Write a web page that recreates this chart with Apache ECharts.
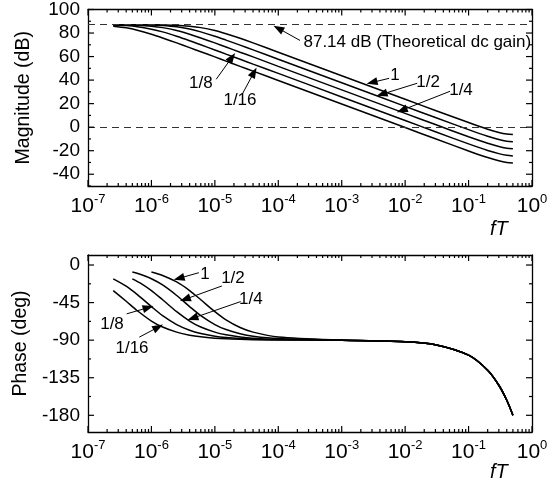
<!DOCTYPE html>
<html lang="en">
<head>
<meta charset="UTF-8">
<title>bode</title>
<script src="https://cdn.jsdelivr.net/npm/echarts@6.0.0/dist/echarts.min.js"></script>
<style>
    body { margin: 0; background: #fff; }
    #chart { width: 557px; height: 481px; }
</style>
</head>
<body>
<div id="chart"></div>
<script>
// sample points (fT) and values
var fMag = [2.5e-7, 4e-7, 6e-7, 1e-6, 1.5e-6, 2.5e-6, 4e-6, 6e-6, 1e-5, 1.5e-5, 2.5e-5, 4e-5, 1e-4, 1e-3, 1e-2, 0.03, 0.1, 0.2, 0.3, 0.4, 0.5];
var mag1  = [87.1, 87.1, 87.1, 87.0, 86.9, 86.6, 85.8, 84.6, 82.1, 79.4, 75.5, 71.6, 63.7, 43.7, 23.7, 14.2, 3.9, -1.7, -4.5, -5.9, -6.3];
var mag2  = [87.1, 87.1, 87.0, 86.8, 86.4, 85.3, 83.4, 81.0, 77.3, 74.0, 69.7, 65.7, 57.7, 37.7, 17.7, 8.2, -2.1, -7.7, -10.5, -11.9, -12.3];
var mag4  = [87.1, 86.9, 86.6, 85.8, 84.6, 82.1, 78.9, 75.8, 71.6, 68.1, 63.7, 59.7, 51.7, 31.7, 11.7, 2.2, -8.2, -13.7, -16.5, -17.9, -18.4];
var mag8  = [86.8, 86.3, 85.4, 83.3, 81.0, 77.3, 73.5, 70.0, 65.6, 62.1, 57.7, 53.6, 45.7, 25.7, 5.7, -3.9, -14.2, -19.8, -22.5, -23.9, -24.4];
var mag16 = [85.8, 84.4, 82.4, 79.0, 75.8, 71.6, 67.6, 64.1, 59.7, 56.1, 51.7, 47.6, 39.7, 19.7, -0.3, -9.9, -20.2, -25.8, -28.6, -30.0, -30.4];

var fPh1   = [1e-6, 1.5e-6, 2.5e-6, 4e-6, 6e-6, 1e-5, 1.5e-5, 2.5e-5, 4e-5, 1e-4, 1e-3, 1e-2, 0.03, 0.1, 0.2, 0.3, 0.4, 0.5];
var ph1    = [-8.4, -12.5, -20.3, -30.6, -41.6, -55.9, -65.7, -74.9, -80.4, -86.1, -89.8, -91.8, -95.4, -108, -126, -144, -162, -180];
var fPhMid = [5e-7, 7e-7, 1e-6, 1.5e-6, 2.5e-6, 4e-6, 6e-6, 1e-5, 1.5e-5, 2.5e-5, 4e-5, 1e-4, 1e-3, 1e-2, 0.03, 0.1, 0.2, 0.3, 0.4, 0.5];
var ph2    = [-8.4, -11.7, -16.5, -23.9, -36.5, -49.8, -60.6, -71.3, -77.3, -82.3, -85.2, -88.1, -90.0, -91.8, -95.4, -108, -126, -144, -162, -180];
var ph4    = [-16.5, -22.5, -30.6, -41.6, -55.9, -67.1, -74.3, -80.4, -83.6, -86.1, -87.6, -89.0, -90.1, -91.8, -95.4, -108, -126, -144, -162, -180];
var fPhLow = [2.5e-7, 4e-7, 6e-7, 1e-6, 1.5e-6, 2.5e-6, 4e-6, 6e-6, 1e-5, 1.5e-5, 2.5e-5, 4e-5, 1e-4, 1e-3, 1e-2, 0.03, 0.1, 0.2, 0.3, 0.4, 0.5];
var ph8    = [-16.5, -25.3, -35.4, -49.8, -60.6, -71.3, -78.1, -82.0, -85.2, -86.8, -88.1, -88.8, -89.5, -90.1, -91.8, -95.4, -108, -126, -144, -162, -180];
var ph16   = [-30.6, -43.4, -54.8, -67.1, -74.3, -80.4, -84.0, -86.0, -87.6, -88.4, -89.0, -89.4, -89.8, -90.2, -91.8, -95.4, -108, -126, -144, -162, -180];

// ticks
var xTicks = [1e-7, 1e-6, 1e-5, 1e-4, 1e-3, 1e-2, 1e-1, 1];
var magTicks = [-40, -20, 0, 20, 40, 60, 80, 100];
var magMinor = [-50, -30, -10, 10, 30, 50, 70, 90];
var phTicks = [-180, -135, -90, -45, 0];
var phMinor = [-157.5, -112.5, -67.5, -22.5];
var dcGain = 87.14;

// annotations: [tail, tip] arrows and labels
var magArrows = [
    [[2.2e-4, 73.7], [1e-4, 84]],
    [[5.6e-3, 41.5], [3.0e-3, 38]],
    [[1.55e-2, 37.3], [4.3e-3, 28]],
    [[5.1e-2, 30.5], [8.9e-3, 14.4]],
    [[1.05e-5, 40.7], [1.86e-5, 59.3]],
    [[2.75e-5, 28.8], [4.14e-5, 46.6]]
];
var magNotes = [['1', 6.9e-3, 44], ['1/2', 0.023, 38.1], ['1/4', 0.076, 31.4], ['1/8', 6.0e-6, 37.3], ['1/16', 2.49e-5, 22.9]];
var phArrows = [
    [[5.6e-6, -9.2], [2.72e-6, -15.9]],
    [[1.29e-5, -25.1], [3.4e-6, -41]],
    [[2.55e-5, -43.8], [4.47e-6, -63.7]],
    [[4.07e-7, -58.5], [8.9e-7, -51]],
    [[6.44e-7, -86.4], [1.28e-6, -74.4]]
];
var phNotes = [['1', 7.0e-6, -10.7], ['1/2', 1.93e-5, -15.5], ['1/4', 3.7e-5, -40.6], ['1/8', 2.39e-7, -70.5], ['1/16', 4.94e-7, -99.2]];

var FONT = 'Liberation Sans';

var xMinor = [];
for (var e = -7; e < 0; e++) {
    for (var k = 2; k <= 9; k++) xMinor.push(k * Math.pow(10, e));
}

function logLabel(v) {
    return '{b|10}{s|' + Math.round(Math.log10(v)) + '}';
}

function xAxes(grid) {
    var line = {show: true, onZero: false, lineStyle: {color: '#000', width: 1.3}};
    var base = {gridIndex: grid, type: 'log', min: 1e-7, max: 1, splitLine: {show: false}, axisTick: {show: false}};
    return [
        Object.assign({}, base, {
            position: 'bottom', axisLine: line,
            axisLabel: {
                customValues: xTicks, formatter: logLabel, margin: 7, color: '#000',
                rich: {
                    b: {fontSize: 21, fontFamily: FONT, color: '#000', lineHeight: 26},
                    s: {fontSize: 13, fontFamily: FONT, color: '#000', verticalAlign: 'top', lineHeight: 26}
                }
            }
        }),
        Object.assign({}, base, {position: 'top', axisLine: line, axisLabel: {show: false}})
    ];
}

function yAxes(grid, min, max, ticks, name) {
    var line = {show: true, onZero: false, lineStyle: {color: '#000', width: 1.3}};
    var base = {gridIndex: grid, type: 'value', min: min, max: max, splitLine: {show: false}, axisTick: {show: false}};
    return [
        Object.assign({}, base, {
            position: 'left', axisLine: line, name: name, nameLocation: 'middle', nameGap: 54,
            nameTextStyle: {fontSize: 19.5, fontFamily: FONT, color: '#000'},
            axisLabel: {customValues: ticks, margin: 8, fontSize: 19, fontFamily: FONT, color: '#000'}
        }),
        Object.assign({}, base, {position: 'right', axisLine: line, axisLabel: {show: false}})
    ];
}

// inward ticks on all four sides, placed through the axes' own scales
function tickSeries(axis, yMin, yMajor, yMinor) {
    var data = [];
    xTicks.forEach(function (v) { data.push([v, yMin, 0, 6]); });
    xMinor.forEach(function (v) { data.push([v, yMin, 0, 3]); });
    yMajor.forEach(function (v) { data.push([1e-3, v, 1, 6]); });
    yMinor.forEach(function (v) { data.push([1e-3, v, 1, 3]); });
    return {
        type: 'custom', xAxisIndex: axis, yAxisIndex: axis, silent: true, z: 5,
        data: data,
        renderItem: function (params, api) {
            var cs = params.coordSys;
            var p = api.coord([api.value(0), api.value(1)]);
            var len = api.value(3);
            var segs;
            if (api.value(2) === 0) {
                segs = [[p[0], cs.y + cs.height, p[0], cs.y + cs.height - len], [p[0], cs.y, p[0], cs.y + len]];
            } else {
                segs = [[cs.x, p[1], cs.x + len, p[1]], [cs.x + cs.width, p[1], cs.x + cs.width - len, p[1]]];
            }
            return {
                type: 'group',
                children: segs.map(function (s) {
                    return {type: 'line', shape: {x1: s[0], y1: s[1], x2: s[2], y2: s[3]}, style: {stroke: '#000', lineWidth: 1.2}};
                })
            };
        }
    };
}

function curve(name, xs, ys, axis) {
    return {
        name: name, type: 'line', xAxisIndex: axis, yAxisIndex: axis,
        data: xs.map(function (x, i) { return [x, ys[i]]; }),
        symbol: 'none', smooth: 0.3, silent: true,
        lineStyle: {color: '#000', width: 1.5}
    };
}

function arrows(list) {
    return {
        silent: true, symbol: ['none', 'triangle'], symbolSize: [8, 11],
        label: {show: false},
        itemStyle: {color: '#000'},
        lineStyle: {color: '#000', width: 1, type: 'solid'},
        data: list.map(function (a) { return [{coord: a[0]}, {coord: a[1]}]; })
    };
}

function notes(list) {
    return {
        silent: true, symbol: 'circle', symbolSize: 1,
        itemStyle: {color: 'rgba(0,0,0,0)'},
        label: {show: true, position: 'inside', formatter: '{b}', color: '#000', fontSize: 17, fontFamily: FONT},
        data: list.map(function (n) { return {name: n[0], coord: [n[1], n[2]]}; })
    };
}

var myChart = echarts.init(document.getElementById('chart'));

var s1 = curve('1', fMag, mag1, 0);
var s2 = curve('1/2', fMag, mag2, 0);
var s4 = curve('1/4', fMag, mag4, 0);
var s8 = curve('1/8', fMag, mag8, 0);
var s16 = curve('1/16', fMag, mag16, 0);
s1.markLine = {
    silent: true, symbol: 'none', label: {show: false},
    lineStyle: {color: '#333', width: 1.2, type: [7, 5]},
    data: [{yAxis: dcGain}, {yAxis: 0}]
};
s2.markLine = arrows(magArrows);
var magNoteCfg = notes(magNotes);
magNoteCfg.data.push({
    name: '87.14 dB (Theoretical dc gain)', coord: [2.45e-4, 72],
    label: {position: 'right', distance: 0}
});
s2.markPoint = magNoteCfg;

var p1 = curve('1', fPh1, ph1, 2);
var p2 = curve('1/2', fPhMid, ph2, 2);
var p4 = curve('1/4', fPhMid, ph4, 2);
var p8 = curve('1/8', fPhLow, ph8, 2);
var p16 = curve('1/16', fPhLow, ph16, 2);
p1.markLine = arrows(phArrows);
p1.markPoint = notes(phNotes);

var option = {
    animation: false,
    grid: [
        {left: 88, top: 9, right: 25, bottom: 295},
        {left: 88, top: 255, right: 25, bottom: 49}
    ],
    xAxis: xAxes(0).concat(xAxes(1)),
    yAxis: yAxes(0, -50, 100, magTicks, 'Magnitude (dB)')
        .concat(yAxes(1, -200, 12, phTicks, 'Phase (deg)')),
    graphic: [
        {type: 'text', left: 490, top: 219, style: {text: 'fT', font: 'italic 20px "Liberation Sans"', fill: '#000'}},
        {type: 'text', left: 490, top: 462, style: {text: 'fT', font: 'italic 20px "Liberation Sans"', fill: '#000'}}
    ],
    series: [s1, s2, s4, s8, s16, p1, p2, p4, p8, p16,
        tickSeries(0, -50, magTicks, magMinor),
        tickSeries(2, -200, phTicks, phMinor)]
};

myChart.setOption(option);
</script>
</body>
</html>
